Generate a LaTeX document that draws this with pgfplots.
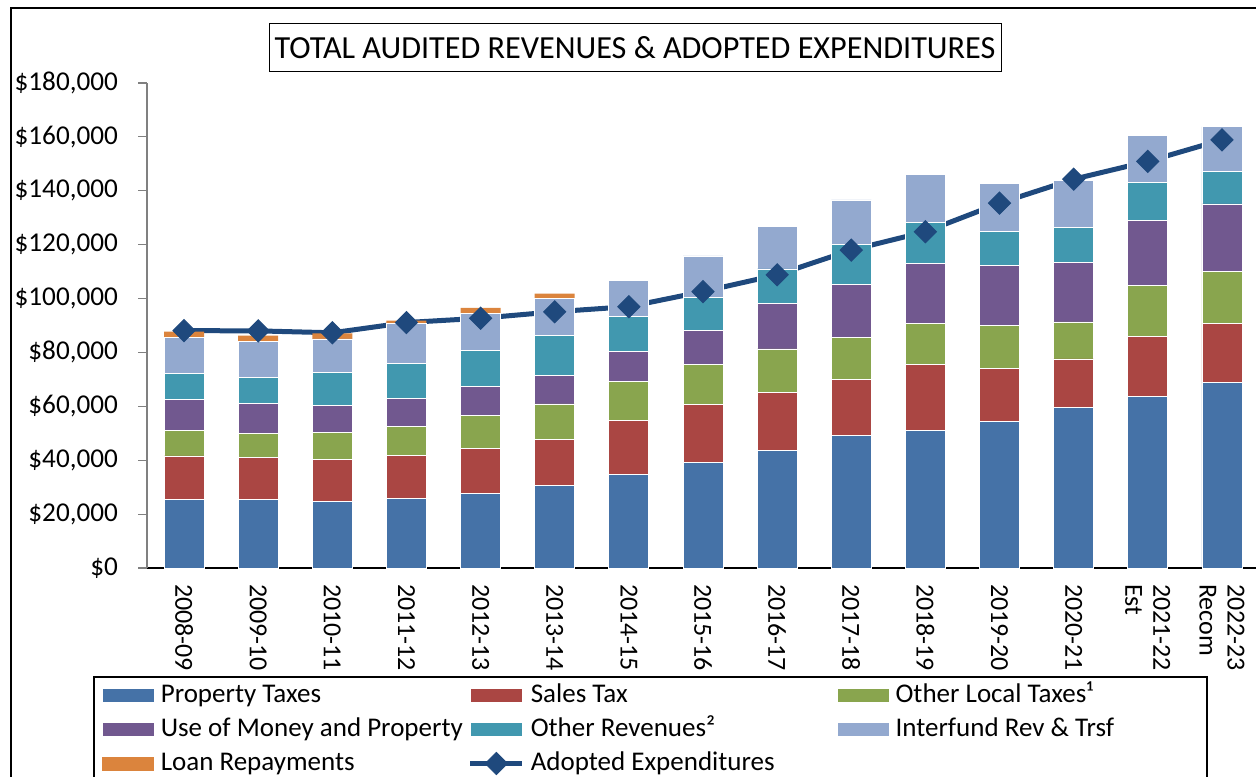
\documentclass[border=0pt]{standalone}
\usepackage{pgfplots}
\pgfplotsset{compat=1.18}
\usepackage{pgfplotstable}
\usepackage{fontspec}
\setmainfont{Carlito}

\definecolor{cProp}{HTML}{4572A7}
\definecolor{cSales}{HTML}{AA4643}
\definecolor{cOlt}{HTML}{89A54E}
\definecolor{cUse}{HTML}{71588F}
\definecolor{cOrev}{HTML}{4198AF}
\definecolor{cInter}{HTML}{93A9CF}
\definecolor{cLoan}{HTML}{DB843D}
\definecolor{cExp}{HTML}{1F497D}

\pgfplotsset{
  barleg/.style={legend image code/.code={\fill[##1] (0pt,-3.5pt) rectangle (26pt,3.5pt);}},
  lineleg/.style={legend image code/.code={\draw[mark repeat=2, mark phase=2, ##1] plot coordinates {(0pt,0pt) (13pt,0pt) (26pt,0pt)};}},
}

\pgfplotstableread{
x  prop  sales olt   use   orev  inter loan exp
0  25400 16200 9300  11500 9700  13500 2100 88100
1  25600 15300 9200  10900 9600  13500 2100 88000
2  24700 15500 10200 10000 12100 12500 2100 87300
3  25900 15900 10900 10100 13000 15000 1000 91100
4  27700 16800 12200 10600 13500 13700 2000 92700
5  30700 16900 13300 10500 14800 13800 1800 95100
6  34800 19800 14800 10900 12900 13600 0    97000
7  39100 21500 15100 12300 12300 15500 0    102600
8  43500 21800 16000 16800 12900 15600 0    108800
9  49100 20800 15600 19700 14800 16600 0    118000
10 51100 24400 15300 22300 15100 17800 0    124800
11 54400 19600 15900 22500 12400 17900 0    135400
12 59600 18000 13700 22200 13000 17200 0    144300
13 63600 22300 18900 24300 14100 17500 0    150900
14 68900 22000 19300 24900 12000 16700 0    158900
}\data

\begin{document}
\begin{tikzpicture}
\useasboundingbox (0pt,0pt) rectangle (628pt,388pt);
\clip (0pt,0pt) rectangle (628pt,388pt);
\draw[line width=1pt] (5.5pt,-10pt) -- (5.5pt,384pt) -- (640pt,384pt);
\node[draw, line width=0.5pt, minimum width=366pt, minimum height=24pt, inner sep=0pt,
      font=\fontsize{16.1}{20}\selectfont] at (317.5pt,364pt)
      {TOTAL AUDITED REVENUES \& ADOPTED EXPENDITURES};
\begin{axis}[
  at={(73.5pt,104pt)}, anchor=south west,
  scale only axis, width=556pt, height=242.5pt,
  ybar stacked, bar width=20pt,
  xmin=-0.5, xmax=14.5, ymin=0, ymax=180000,
  scaled y ticks=false,
  axis x line*=bottom, axis y line*=left,
  axis line style={-},
  x axis line style={draw=black, line width=0.8pt},
  y axis line style={draw=gray, line width=0.6pt},
  tick align=outside, major tick length=4.5pt,
  ytick={0,20000,40000,60000,80000,100000,120000,140000,160000,180000},
  yticklabels={\$0,\$20{,}000,\$40{,}000,\$60{,}000,\$80{,}000,\$100{,}000,\$120{,}000,\$140{,}000,\$160{,}000,\$180{,}000},
  ytick style={draw=gray, line width=0.6pt},
  yticklabel style={font=\fontsize{13.6}{15}\selectfont, xshift=-6.5pt},
  xtick={0,...,14},
  xticklabels={2008-09,2009-10,2010-11,2011-12,2012-13,2013-14,2014-15,2015-16,2016-17,2017-18,2018-19,2019-20,2020-21,{2021-22\\Est},{2022-23\\Recom}},
  xtick style={draw=none},
  xticklabel style={font=\fontsize{13}{14}\selectfont, rotate=-90, anchor=west, align=left},
  legend columns=3,
  legend cell align=left,
  barleg,
  legend style={at={(-0.04856,-0.22268)}, anchor=north west, draw=black, line width=1pt,
     inner xsep=4pt, inner ysep=3pt, row sep=4.5pt,
     font=\fontsize{13.5}{15}\selectfont,
     /tikz/every odd column/.style={column sep=3pt},
     nodes={inner sep=0pt, text height=9.5pt, text depth=3pt}},
]
\addplot[fill=cProp, draw=white, line width=0.4pt] table[x=x,y=prop]{\data};
\addlegendentry{\makebox[153.5pt][l]{Property Taxes}}
\addplot[fill=cSales, draw=white, line width=0.4pt] table[x=x,y=sales]{\data};
\addlegendentry{\makebox[153pt][l]{Sales Tax}}
\addplot[fill=cOlt, draw=white, line width=0.4pt] table[x=x,y=olt]{\data};
\addlegendentry{\makebox[151.5pt][l]{Other Local Taxes¹}}
\addplot[fill=cUse, draw=white, line width=0.4pt] table[x=x,y=use]{\data};
\addlegendentry{Use of Money and Property}
\addplot[fill=cOrev, draw=white, line width=0.4pt] table[x=x,y=orev]{\data};
\addlegendentry{Other Revenues²}
\addplot[fill=cInter, draw=white, line width=0.4pt] table[x=x,y=inter]{\data};
\addlegendentry{Interfund Rev \& Trsf}
\addplot[fill=cLoan, draw=none] table[x=x,y=loan]{\data};
\addlegendentry{Loan Repayments}
\addplot[sharp plot, stack plots=false, draw=cExp, line width=2.5pt,
  mark=square*, mark size=3.9pt, mark options={rotate=45, fill=cExp, draw=cExp, line width=0.5pt},
  lineleg]
  table[x=x,y=exp]{\data};
\addlegendentry{Adopted Expenditures}
\end{axis}
\end{tikzpicture}
\end{document}
